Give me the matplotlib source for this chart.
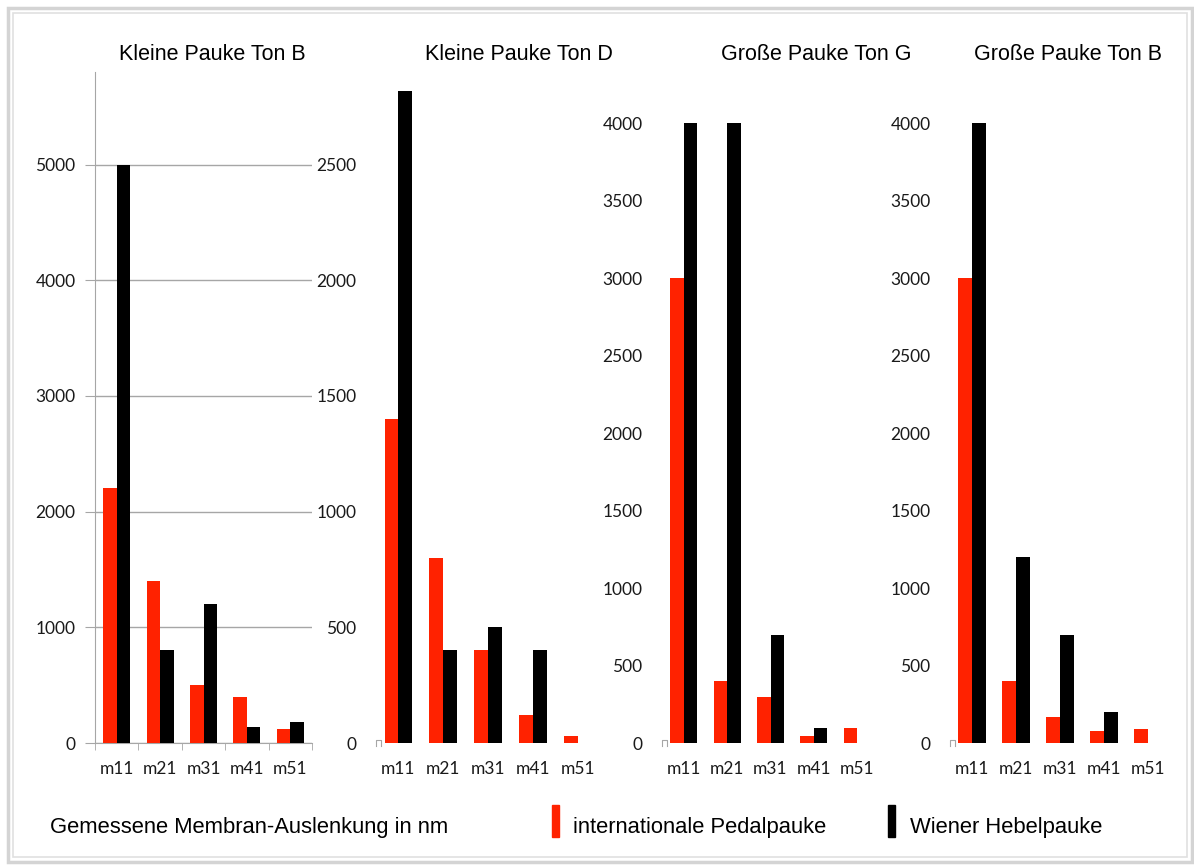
import numpy as np
import matplotlib.pyplot as plt
from matplotlib.patches import Rectangle

# Daten (Membran-Auslenkung in nm)
kategorien = ["m11", "m21", "m31", "m41", "m51"]
titel = ["Kleine Pauke Ton B", "Kleine Pauke Ton D", "Große Pauke Ton G", "Große Pauke Ton B"]

pedal_b_klein = [2200, 1400, 500, 400, 120]
hebel_b_klein = [5000, 800, 1200, 140, 180]
pedal_d_klein = [1400, 800, 400, 120, 30]
hebel_d_klein = [2820, 400, 500, 400, 0]
pedal_g_gross = [3000, 400, 300, 45, 100]
hebel_g_gross = [4000, 4000, 700, 100, 0]
pedal_b_gross = [3000, 400, 170, 80, 90]
hebel_b_gross = [4000, 1200, 700, 200, 0]

pedal = [pedal_b_klein, pedal_d_klein, pedal_g_gross, pedal_b_gross]
hebel = [hebel_b_klein, hebel_d_klein, hebel_g_gross, hebel_b_gross]
yticks = [np.arange(0, 5001, 1000), np.arange(0, 2501, 500),
          np.arange(0, 4001, 500), np.arange(0, 4001, 500)]
ymax = [5800, 2900, 4330, 4330]

W, H = 1194, 866
ROT = "#ff2200"
GRAU = "#a6a6a6"
TICKFONT = ["Lato", "DejaVu Sans"]
TEXTFONT = ["Liberation Sans", "DejaVu Sans"]

fig = plt.figure(figsize=(W / 100, H / 100), dpi=100)

def px_rect(left, right, top, bottom):
    return [left / W, 1 - bottom / H, (right - left) / W, (bottom - top) / H]

# Pixel-Positionen der Panels (links, rechts)
panels = [(95, 312), (376, 600), (662, 879), (950, 1170)]
titel_x = [212, 519, 816, 1068]

x = np.arange(len(kategorien))
b = 0.31
for i in range(4):
    ax = fig.add_axes(px_rect(panels[i][0], panels[i][1], 72, 743))
    ax.bar(x - b / 2, pedal[i], width=b, color=ROT, zorder=3)
    ax.bar(x + b / 2, hebel[i], width=b, color="black", zorder=3)
    ax.set_xlim(-0.5, 4.5)
    ax.set_ylim(0, ymax[i])
    ax.set_yticks(yticks[i])
    ax.set_xticks(x)
    ax.set_xticklabels(kategorien)
    for s in ["top", "right"]:
        ax.spines[s].set_visible(False)
    if i == 0:
        ax.spines["left"].set_color(GRAU)
        ax.spines["bottom"].set_color(GRAU)
        ax.yaxis.grid(True, color=GRAU, linewidth=1)
        ax.set_axisbelow(True)
        ax.tick_params(axis="y", length=7, color=GRAU, pad=7)
        ax.set_xticks(np.arange(-0.5, 5, 1), minor=True)
        ax.tick_params(axis="x", which="major", length=0, pad=13)
        ax.tick_params(axis="x", which="minor", length=5, color=GRAU)
    else:
        ax.spines["left"].set_visible(False)
        ax.spines["bottom"].set_visible(False)
        ax.tick_params(axis="y", length=0, pad=14)
        ax.tick_params(axis="x", length=0, pad=13)
        # kleiner Achsenrest links unten
        ax.plot([-0.5, -0.5, -0.38, -0.38], [-0.004, 0.004, 0.004, -0.004],
                color=GRAU, linewidth=0.8, transform=ax.get_xaxis_transform(),
                clip_on=False)
    for lab in ax.get_xticklabels() + ax.get_yticklabels():
        lab.set_family(TICKFONT)
        lab.set_fontsize(12.5)
        lab.set_color("#1a1a1a")
    fig.text(titel_x[i] / W, 1 - 54 / H, titel[i], ha="center", va="center",
             fontsize=15.5, family=TEXTFONT)

# Legende unten
fig.text(50 / W, 1 - 828 / H, "Gemessene Membran-Auslenkung in nm", ha="left", va="center",
         fontsize=15.8, family=TEXTFONT)
fig.patches.append(Rectangle((552 / W, 1 - 837 / H), 7 / W, 32 / H, color=ROT,
                             transform=fig.transFigure))
fig.text(573 / W, 1 - 828 / H, "internationale Pedalpauke", ha="left", va="center",
         fontsize=15.8, family=TEXTFONT)
fig.patches.append(Rectangle((888 / W, 1 - 837 / H), 7 / W, 32 / H, color="black",
                             transform=fig.transFigure))
fig.text(910 / W, 1 - 828 / H, "Wiener Hebelpauke", ha="left", va="center",
         fontsize=15.8, family=TEXTFONT)

# doppelter grauer Rahmen
fig.patches.append(Rectangle((8 / W, 1 - 862 / H), 1184 / W, 854 / H, fill=False,
                             edgecolor="#d4d4d4", linewidth=2.5, transform=fig.transFigure))
fig.patches.append(Rectangle((13 / W, 1 - 857 / H), 1174 / W, 844 / H, fill=False,
                             edgecolor="#e0e0e0", linewidth=1.2, transform=fig.transFigure))

fig.savefig("out.png", dpi=100)
